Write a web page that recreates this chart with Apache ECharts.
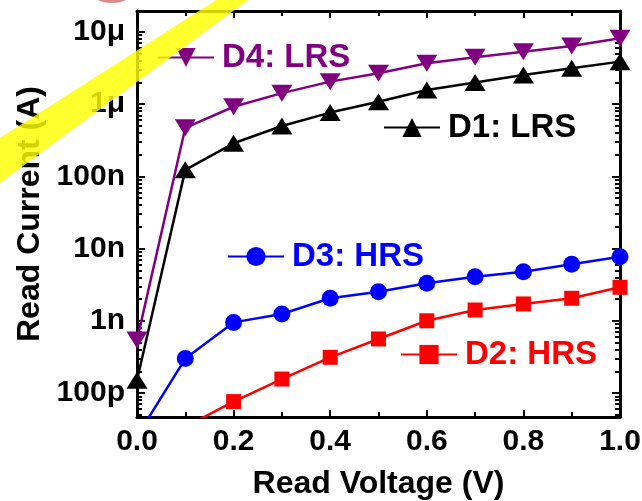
<!DOCTYPE html>
<html>
<head>
<meta charset="utf-8">
<script src="https://cdn.jsdelivr.net/npm/echarts@6/dist/echarts.min.js"></script>
<style>
  html, body { margin: 0; padding: 0; background: #fff; }
  #chart { width: 642px; height: 501px; }
</style>
</head>
<body>
<div id="chart"></div>
<script>
// read voltage (V)
const voltage = [0, 0.1, 0.2, 0.3, 0.4, 0.5, 0.6, 0.7, 0.8, 0.9, 1.0]
// read current (A)
const d4LRS = [5.4e-10, 4.7e-7, 9.2e-7, 1.42e-6, 2.05e-6, 2.68e-6, 3.68e-6, 4.46e-6, 5.33e-6, 6.4e-6, 8.2e-6]
const d1LRS = [1.5e-10, 1.23e-7, 2.87e-7, 4.99e-7, 7.64e-7, 1.08e-6, 1.57e-6, 1.99e-6, 2.54e-6, 3.14e-6, 3.88e-6]
const d3HRS = [2.5e-11, 3.0e-10, 9.5e-10, 1.24e-9, 2.05e-9, 2.53e-9, 3.3e-9, 4.08e-9, 4.78e-9, 6.05e-9, 7.7e-9]
const d2HRS = [null, 3.4e-11, 7.6e-11, 1.56e-10, 3.12e-10, 5.6e-10, 1.0e-9, 1.41e-9, 1.71e-9, 2.05e-9, 2.91e-9]

// y tick labels
const yTicks = [1e-10, 1e-9, 1e-8, 1e-7, 1e-6, 1e-5]
const yTickLabels = ['100p', '1n', '10n', '100n', '1\u03bc', '10\u03bc']
const yMin = 4.65e-11
const yMax = 1.95e-5

// minor ticks 2..9 of every decade
const yMinor = []
yTicks.concat([1e-11]).forEach(function(d) {
  for (let k = 2; k <= 9; k++) yMinor.push(d * k)
})

const FONT = 'Liberation Sans, Arial, sans-serif'

function pairs(ys) {
  const out = []
  ys.forEach(function(y, i) {
    if (y !== null) out.push([voltage[i], y])
  })
  return out
}

function yLabel(v) {
  for (let i = 0; i < yTicks.length; i++) {
    if (Math.abs(Math.log10(v) - Math.log10(yTicks[i])) < 1e-6) return yTickLabels[i]
  }
  return ''
}

const axisLine = { show: true, lineStyle: { color: '#000', width: 3 } }

function xAxis(pos, labels) {
  return {
    type: 'value', position: pos, min: 0, max: 1, interval: 0.2,
    axisLine: axisLine,
    axisTick: { show: true, inside: true, length: 7, lineStyle: { color: '#000', width: 2 } },
    minorTick: { show: true, splitNumber: 2, length: 5, lineStyle: { color: '#000', width: 2 } },
    splitLine: { show: false },
    axisLabel: {
      show: labels, margin: 10, color: '#000', fontFamily: FONT, fontWeight: 'bold', fontSize: 30,
      formatter: function(v) { return v.toFixed(1) }
    },
    name: labels ? 'Read Voltage (V)' : '', nameLocation: 'middle', nameGap: 51,
    nameTextStyle: { color: '#000', fontFamily: FONT, fontWeight: 'bold', fontSize: 32 }
  }
}

function yMajor(pos, labels) {
  return {
    type: 'log', position: pos, min: yMin, max: yMax, logBase: 10,
    axisLine: axisLine,
    axisTick: { show: true, inside: true, length: 8, lineStyle: { color: '#000', width: 2 } },
    splitLine: { show: false },
    axisLabel: {
      show: labels, margin: 12, color: '#000', fontFamily: FONT, fontWeight: 'bold', fontSize: 30,
      showMinLabel: false, showMaxLabel: false, formatter: yLabel
    },
    name: labels ? 'Read Current (A)' : '', nameLocation: 'middle', nameGap: 88,
    nameTextStyle: { color: '#000', fontFamily: FONT, fontWeight: 'bold', fontSize: 32 }
  }
}

function yMinorAxis(pos) {
  return {
    type: 'log', position: pos, min: yMin, max: yMax, logBase: 10,
    axisLine: { show: false },
    axisTick: { show: true, inside: true, length: 5, customValues: yMinor, lineStyle: { color: '#000', width: 2 } },
    splitLine: { show: false },
    axisLabel: { show: false }
  }
}

function lineSeries(name, ys, color, symbol, size, rotate) {
  return {
    name: name, type: 'line', data: pairs(ys),
    symbol: symbol, symbolSize: size, symbolRotate: rotate || 0,
    lineStyle: { color: color, width: 2.5 },
    itemStyle: { color: color },
    clip: true, animation: false
  }
}

function legendAt(name, color, left, top) {
  return {
    data: [name], left: left, top: top, padding: 0, orient: 'horizontal',
    itemWidth: 56, itemHeight: 24,
    textStyle: { color: color, fontFamily: FONT, fontWeight: 'bold', fontSize: 33, padding: [0, 0, 0, 3] }
  }
}

const chart = echarts.init(document.getElementById('chart'))
chart.setOption({
  backgroundColor: '#fff',
  animation: false,
  // keep the plot box fixed, labels may sit near the edge
  grid: { left: 137, right: 22, top: 11, bottom: 84, containLabel: false, outerBoundsMode: 'none' },
  xAxis: [xAxis('bottom', true), xAxis('top', false)],
  yAxis: [yMajor('left', true), yMinorAxis('left'), yMajor('right', false), yMinorAxis('right')],
  legend: [
    legendAt('D4: LRS', '#800080', 157, 41),
    legendAt('D1: LRS', '#000', 383, 111),
    legendAt('D3: HRS', '#0000ff', 227, 240),
    legendAt('D2: HRS', '#ff0000', 400, 338)
  ],
  series: [
    lineSeries('D2: HRS', d2HRS, '#ff0000', 'rect', 15),
    lineSeries('D3: HRS', d3HRS, '#0000ff', 'circle', 17),
    lineSeries('D1: LRS', d1LRS, '#000', 'triangle', [21, 17]),
    lineSeries('D4: LRS', d4LRS, '#800080', 'triangle', [21, 17], 180)
  ],
  // yellow highlight stripe and the cut-off mark at the top of the scan
  graphic: [
    {
      type: 'polygon', z: 100,
      shape: { points: [[216, 0], [248, 0], [0, 183], [0, 138]] },
      style: { fill: 'rgba(255,255,0,0.82)' }
    },
    {
      type: 'ellipse', z: 100,
      shape: { cx: 112, cy: -4, rx: 17, ry: 7 },
      style: { fill: '#d98a8a' }
    }
  ]
})
</script>
</body>
</html>
